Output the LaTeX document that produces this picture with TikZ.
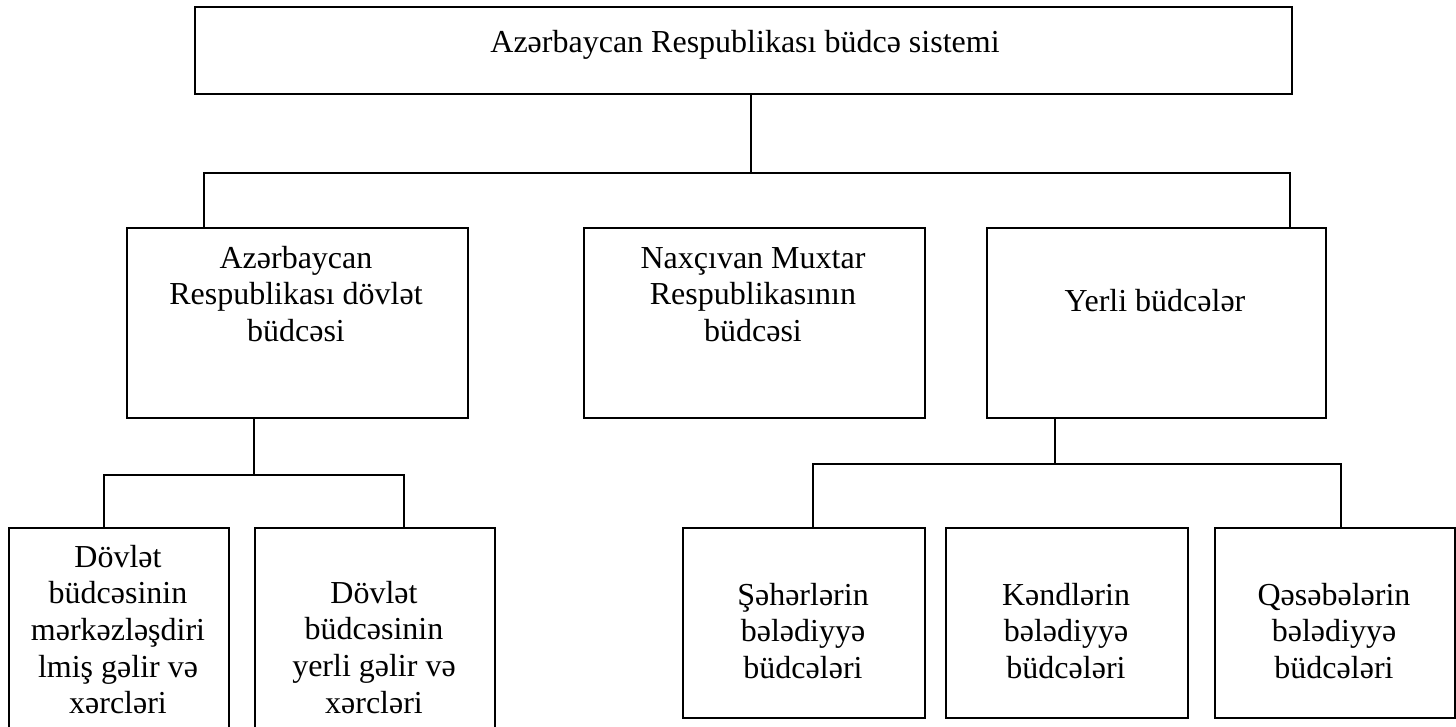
\documentclass[tikz,border=0pt]{standalone}
\usepackage{fontspec}
\setmainfont{Liberation Serif}
\begin{document}
\begin{tikzpicture}[x=1pt,y=-1pt,
  box/.style={draw, line width=1.8pt, rectangle, inner sep=0pt, anchor=north west},
  txt/.style={inner sep=0pt, anchor=north, align=center, font=\fontsize{32}{36.6}\selectfont},
  conn/.style={line width=1.6pt}]
\useasboundingbox (0,0) rectangle (1456,726);
\clip (0,0) rectangle (1456,726);
% boxes
\node[box, minimum width=1097pt, minimum height=87pt] (top) at (194,6) {};
\node[box, minimum width=341pt, minimum height=190pt] (ard) at (126,227) {};
\node[box, minimum width=341pt, minimum height=190pt] (nax) at (583,227) {};
\node[box, minimum width=339pt, minimum height=190pt] (yer) at (986,227) {};
\node[box, minimum width=220pt, minimum height=210pt] (b1) at (8,527) {};
\node[box, minimum width=240pt, minimum height=210pt] (b2) at (254,527) {};
\node[box, minimum width=242pt, minimum height=190pt] (r1) at (682,527) {};
\node[box, minimum width=242pt, minimum height=190pt] (r2) at (945,527) {};
\node[box, minimum width=240pt, minimum height=190pt] (r3) at (1214,527) {};
% texts
\node[txt] (t0) at (745,52-25.6) {\strut Azərbaycan Respublikası büdcə sistemi};
\node[txt] (t1) at (296,268-25.6) {\strut Azərbaycan\\Respublikası dövlət\\büdcəsi};
\node[txt] (t2) at (753,268-25.6) {\strut Naxçıvan Muxtar\\Respublikasının\\büdcəsi};
\node[txt] (t3) at (1155,311-25.6) {\strut Yerli büdcələr};
\node[txt] (t4) at (118,567-25.6) {\strut Dövlət\\büdcəsinin\\mərkəzləşdiri\\lmiş gəlir və\\xərcləri};
\node[txt] (t5) at (374,603-25.6) {\strut Dövlət\\büdcəsinin\\yerli gəlir və\\xərcləri};
\node[txt] (t6) at (803,605-25.6) {\strut Şəhərlərin\\bələdiyyə\\büdcələri};
\node[txt] (t7) at (1066,605-25.6) {\strut Kəndlərin\\bələdiyyə\\büdcələri};
\node[txt] (t8) at (1334,605-25.6) {\strut Qəsəbələrin\\bələdiyyə\\büdcələri};
% connectors
\coordinate (j1) at (751,173);
\coordinate (bL) at (204,173);
\coordinate (bR) at (1290,173);
\draw[conn] (j1 |- top.south) -- (j1);
\draw[conn] (bL |- ard.north) -- (bL) -- (bR) -- (bR |- yer.north);
\coordinate (c1) at (254,475);
\coordinate (cL) at (104,475);
\coordinate (cR) at (404,475);
\draw[conn] (c1 |- ard.south) -- (c1);
\draw[conn] (cL |- b1.north) -- (cL) -- (cR) -- (cR |- b2.north);
\coordinate (d1) at (1055,464);
\coordinate (dL) at (813,464);
\coordinate (dR) at (1341,464);
\draw[conn] (d1 |- yer.south) -- (d1);
\draw[conn] (dL |- r1.north) -- (dL) -- (dR) -- (dR |- r3.north);
\end{tikzpicture}
\end{document}
